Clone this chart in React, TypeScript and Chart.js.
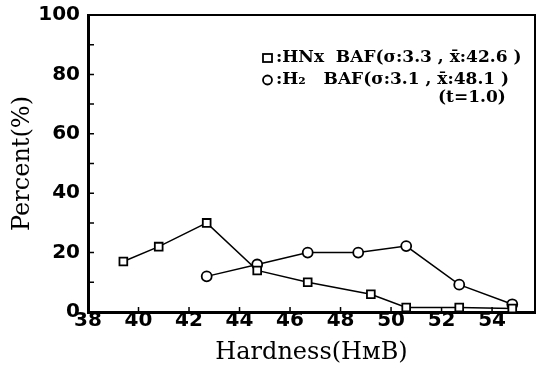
import React, { useEffect, useRef } from "react";
import { Chart, registerables } from "chart.js";

Chart.register(...registerables);

// Data
const hnxHardness = [39.4, 40.8, 42.7, 44.7, 46.7, 49.2, 50.6, 52.7, 54.8];
const hnxPercent = [17, 22, 30, 14, 10, 6, 1.5, 1.5, 1.2];
const h2Hardness = [42.7, 44.7, 46.7, 48.7, 50.6, 52.7, 54.8];
const h2Percent = [12, 16, 20, 20, 22.2, 9.2, 2.6];

const xTickValues = [38, 40, 42, 44, 46, 48, 50, 52, 54];
const yTickValues = [0, 20, 40, 60, 80, 100];
const yMinorTicks = [10, 20, 30, 40, 50, 60, 70, 80, 90];
const xMinorTicks = [40, 42, 44, 46, 48, 50, 52, 54];

const legendHnx = ":HNx  BAF(σ:3.3 , x̄:42.6 )";
const legendH2 = ":H₂   BAF(σ:3.1 , x̄:48.1 )";
const legendNote = "(t=1.0)";

const framePlugin = {
  id: "frame",
  afterDraw(chart: any) {
    const { ctx, chartArea, scales } = chart;
    const { left, right, top, bottom } = chartArea;
    ctx.save();
    ctx.strokeStyle = "#000";
    ctx.lineWidth = 2;
    ctx.beginPath();
    ctx.moveTo(left, top);
    ctx.lineTo(right, top);
    ctx.lineTo(right, bottom);
    ctx.stroke();
    ctx.lineWidth = 1.5;
    ctx.beginPath();
    yMinorTicks.forEach((v) => {
      const y = scales.y.getPixelForValue(v);
      ctx.moveTo(left, y);
      ctx.lineTo(left + 6, y);
    });
    xMinorTicks.forEach((v) => {
      const x = scales.x.getPixelForValue(v);
      ctx.moveTo(x, bottom);
      ctx.lineTo(x, bottom - 5);
    });
    ctx.stroke();

    ctx.fillStyle = "#000";
    ctx.font = "bold 17px 'DejaVu Serif'";
    ctx.textBaseline = "middle";
    ctx.textAlign = "left";
    ctx.lineWidth = 1.8;
    ctx.strokeRect(263, 54, 9, 8);
    ctx.fillText(legendHnx, 276, 58);
    ctx.beginPath();
    ctx.arc(267.5, 80, 4.5, 0, Math.PI * 2);
    ctx.stroke();
    ctx.fillText(legendH2, 276, 80);
    ctx.fillText(legendNote, 438, 98);
    ctx.restore();
  },
};

export default function App() {
  const canvasRef = useRef<HTMLCanvasElement | null>(null);

  useEffect(() => {
    if (!canvasRef.current) return;
    const tickFont = { family: "'DejaVu Sans'", size: 20, weight: "bold" as const };
    const titleFont = { family: "'DejaVu Serif'", size: 24 };
    const chart = new Chart(canvasRef.current, {
      type: "line",
      data: {
        datasets: [
          {
            label: "HNx BAF",
            data: hnxHardness.map((x, i) => ({ x, y: hnxPercent[i] })),
            borderColor: "#000",
            borderWidth: 1.5,
            pointStyle: "rect",
            pointRadius: 5.5,
            pointBorderWidth: 1.8,
            pointBackgroundColor: "#fff",
            pointBorderColor: "#000",
            tension: 0,
            clip: false,
          },
          {
            label: "H2 BAF",
            data: h2Hardness.map((x, i) => ({ x, y: h2Percent[i] })),
            borderColor: "#000",
            borderWidth: 1.5,
            pointStyle: "circle",
            pointRadius: 5,
            pointBorderWidth: 1.8,
            pointBackgroundColor: "#fff",
            pointBorderColor: "#000",
            tension: 0,
            clip: false,
          },
        ],
      },
      options: {
        animation: false,
        responsive: false,
        layout: { autoPadding: false, padding: { top: 15, right: 2, left: 0, bottom: 0 } },
        plugins: { legend: { display: false }, tooltip: { enabled: false } },
        scales: {
          x: {
            type: "linear",
            min: 38,
            max: 55.7,
            afterBuildTicks: (s: any) => {
              s.ticks = xTickValues.map((v) => ({ value: v }));
            },
            afterFit: (s: any) => {
              s.height = 61;
              s.paddingLeft = 0;
              s.paddingRight = 0;
            },
            grid: { display: false, drawTicks: false },
            border: { display: true, width: 3, color: "#000" },
            ticks: {
              font: tickFont,
              color: "#000",
              padding: -3,
              maxRotation: 0,
              autoSkip: false,
            },
            title: {
              display: true,
              text: "Hardness(HᴍB)",
              font: titleFont,
              color: "#000",
              padding: { top: 0, bottom: 6 },
            },
          },
          y: {
            type: "linear",
            min: 0,
            max: 100,
            afterBuildTicks: (s: any) => {
              s.ticks = yTickValues.map((v) => ({ value: v }));
            },
            afterFit: (s: any) => {
              s.width = 88;
              s.paddingTop = 0;
              s.paddingBottom = 0;
            },
            grid: { display: false, drawTicks: false },
            border: { display: true, width: 3, color: "#000" },
            ticks: { font: tickFont, color: "#000", padding: 8 },
            title: {
              display: true,
              text: "Percent(%)",
              font: titleFont,
              color: "#000",
              padding: { top: 8, bottom: 0 },
            },
          },
        },
      },
      plugins: [framePlugin],
    });
    return () => chart.destroy();
  }, []);

  return (
    <div style={{ position: "fixed", left: 0, top: 0, width: 537, height: 373, background: "#fff" }}>
      <canvas ref={canvasRef} width={537} height={373} />
    </div>
  );
}
